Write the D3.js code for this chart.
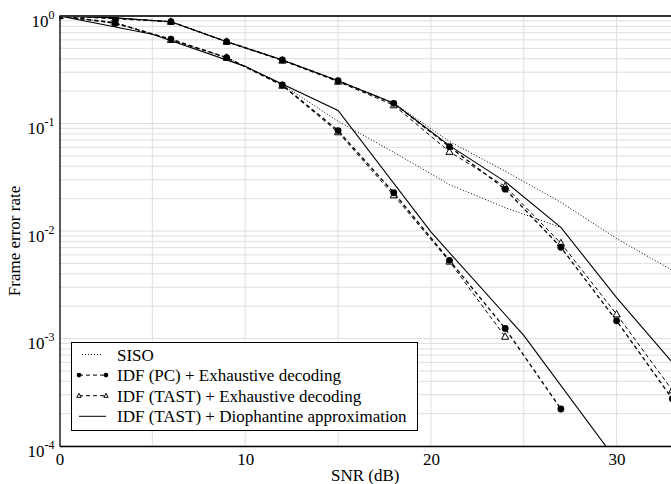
<!DOCTYPE html>
<html>
<head>
<meta charset="utf-8">
<script src="https://cdn.jsdelivr.net/npm/d3@7"></script>
<style>
body { margin: 0; background: #fff; }
svg { display: block; font-family: "Liberation Serif", "Times New Roman", serif; }
</style>
</head>
<body>
<div id="ChartContainer"></div>
<script>
// SNR grid (dB)
var snr = [0, 3, 6, 9, 12, 15, 18, 21, 24, 27, 30, 33]
var snrDio = [0, 5, 10, 15, 20, 25, 30]

// steep group
var pcLow = [1, 0.855, 0.61, 0.41, 0.228, 0.086, 0.0227, 0.00534, 0.00124, 0.000221]
var tastLow = [1, 0.87, 0.6, 0.41, 0.225, 0.083, 0.0215, 0.0052, 0.00104]
var dioLow = [1, 0.676, 0.34, 0.132, 0.0098, 0.00107, 0.000073]
var sisoLow = [1, 0.86, 0.6, 0.41, 0.23, 0.105, 0.054, 0.027, 0.0165, 0.0108]

// flat group
var pcHigh = [1, 0.95, 0.885, 0.577, 0.39, 0.25, 0.154, 0.0609, 0.0245, 0.00706, 0.00146, 0.000275]
var tastHigh = [1, 0.95, 0.885, 0.577, 0.385, 0.245, 0.148, 0.0546, 0.026, 0.0077, 0.00168, 0.00033]
var dioHigh = [1, 0.96, 0.885, 0.577, 0.39, 0.25, 0.154, 0.0623, 0.0288, 0.0108, 0.0024, 0.0006]
var sisoHigh = [1, 0.96, 0.885, 0.58, 0.39, 0.25, 0.155, 0.068, 0.036, 0.0185, 0.0085, 0.0043]

var legendLabels = [
  "SISO",
  "IDF (PC) + Exhaustive decoding",
  "IDF (TAST) + Exhaustive decoding",
  "IDF (TAST) + Diophantine approximation"
]
var xTicks = [0, 10, 20, 30]
var yTicks = [1, 1e-1, 1e-2, 1e-3, 1e-4]

var fullWidth = 671
var fullHeight = 484
var plotLeft = 59.5, plotTop = 16, plotRight = 672.3, plotBottom = 446

var svg = d3.select("#ChartContainer").append("svg")
  .attr("width", fullWidth)
  .attr("height", fullHeight)

var x = d3.scaleLinear().domain([0, 33]).range([plotLeft, plotRight])
var y = d3.scaleLog().domain([1e-4, 1]).range([plotBottom, plotTop])

svg.append("clipPath").attr("id", "plotClip")
  .append("rect")
  .attr("x", plotLeft).attr("y", plotTop)
  .attr("width", plotRight - plotLeft).attr("height", plotBottom - plotTop)

// grid
var grid = svg.append("g").attr("stroke", "#dedede").attr("stroke-width", 1)
grid.selectAll(".vgrid")
  .data(d3.range(5, 33, 5))
  .enter().append("line")
  .attr("x1", d => x(d)).attr("x2", d => x(d))
  .attr("y1", plotTop).attr("y2", plotBottom)
grid.selectAll(".hgrid")
  .data(y.ticks())
  .enter().append("line")
  .attr("x1", plotLeft).attr("x2", plotRight)
  .attr("y1", d => y(d)).attr("y2", d => y(d))

// series
var series = [
  {xs: snr, ys: sisoLow, dash: "1,2", width: 1, marker: null},
  {xs: snr, ys: sisoHigh, dash: "1,2", width: 1, marker: null},
  {xs: snrDio, ys: dioLow, dash: null, width: 1.1, marker: null},
  {xs: snr, ys: dioHigh, dash: null, width: 1.1, marker: null},
  {xs: snr, ys: tastLow, dash: "4,3", width: 1, marker: "tri"},
  {xs: snr, ys: tastHigh, dash: "4,3", width: 1, marker: "tri"},
  {xs: snr, ys: pcLow, dash: "4,3", width: 1.3, marker: "dot"},
  {xs: snr, ys: pcHigh, dash: "4,3", width: 1.3, marker: "dot"}
]

var line = d3.line().x(d => x(d[0])).y(d => y(d[1]))
var plot = svg.append("g").attr("clip-path", "url(#plotClip)")

function drawMarker(g, kind, cx, cy, size) {
  if (kind === "dot") {
    g.append("circle").attr("cx", cx).attr("cy", cy).attr("r", size)
      .attr("fill", "#000")
  } else if (kind === "tri") {
    var h = size * 1.8
    g.append("path")
      .attr("d", `M${cx},${cy - h * 0.6}L${cx + h * 0.55},${cy + h * 0.4}L${cx - h * 0.55},${cy + h * 0.4}Z`)
      .attr("fill", "#fff").attr("stroke", "#000").attr("stroke-width", 1)
  }
}

series.forEach(s => {
  var pts = s.ys.map((v, i) => [s.xs[i], v])
  plot.append("path")
    .attr("d", line(pts))
    .attr("fill", "none")
    .attr("stroke", "#000")
    .attr("stroke-width", s.width)
    .attr("stroke-dasharray", s.dash)
  if (s.marker) {
    pts.forEach(p => drawMarker(plot, s.marker, x(p[0]), y(p[1]), s.marker === "dot" ? 3.4 : 3.6))
  }
})

// frame
svg.append("line").attr("x1", plotLeft).attr("x2", plotRight).attr("y1", plotTop).attr("y2", plotTop)
  .attr("stroke", "#333").attr("stroke-width", 2)

// x-axis
var xAxis = svg.append("g")
  .attr("transform", `translate(0,${plotBottom})`)
  .call(d3.axisBottom(x).tickValues(xTicks).tickSize(0).tickPadding(7).tickFormat(d3.format("d")))
xAxis.select(".domain").attr("stroke", "#000").attr("stroke-width", 1.3)
xAxis.selectAll("text").attr("font-size", 17).attr("font-family", "Liberation Serif, serif").attr("fill", "#000")

// y-axis
var yAxis = svg.append("g")
  .attr("transform", `translate(${plotLeft},0)`)
  .call(d3.axisLeft(y).tickValues(yTicks).tickSize(0).tickPadding(5).tickFormat(""))
yAxis.select(".domain").attr("stroke", "#000").attr("stroke-width", 1.3)
yAxis.selectAll(".tick text")
  .attr("font-size", 17)
  .attr("font-family", "Liberation Serif, serif")
  .attr("fill", "#000")
  .attr("dy", "0.6em")
  .each(function (d) {
    var t = d3.select(this)
    t.append("tspan").text("10")
    t.append("tspan").attr("font-size", 12).attr("dy", -8).text(Math.round(Math.log10(d)))
  })

// axis labels
svg.append("text")
  .attr("x", (plotLeft + 671) / 2)
  .attr("y", 481)
  .attr("text-anchor", "middle")
  .attr("font-size", 17)
  .text("SNR (dB)")

svg.append("text")
  .attr("transform", "rotate(-90)")
  .attr("x", -241)
  .attr("y", 20)
  .attr("text-anchor", "middle")
  .attr("font-size", 17)
  .text("Frame error rate")

// legend
var legend = svg.append("g")
legend.append("rect")
  .attr("x", 71.5).attr("y", 342.5)
  .attr("width", 346).attr("height", 88)
  .attr("fill", "#fff").attr("stroke", "#000").attr("stroke-width", 1)

var legendStyle = [
  {dash: "1,2", marker: null, x1: 82, x2: 103},
  {dash: "4,3", marker: "dot", x1: 79, x2: 106},
  {dash: "4,3", marker: "tri", x1: 79, x2: 106},
  {dash: null, marker: null, x1: 79, x2: 106}
]
legendLabels.forEach((label, i) => {
  var cy = 354.5 + i * 20.6
  var st = legendStyle[i]
  legend.append("line")
    .attr("x1", st.x1).attr("x2", st.x2)
    .attr("y1", cy).attr("y2", cy)
    .attr("stroke", "#000").attr("stroke-width", 1)
    .attr("stroke-dasharray", st.dash)
  if (st.marker) {
    drawMarker(legend, st.marker, st.x1, cy, st.marker === "dot" ? 2.3 : 2.2)
    drawMarker(legend, st.marker, st.x2, cy, st.marker === "dot" ? 2.3 : 2.2)
  }
  legend.append("text")
    .attr("x", 117)
    .attr("y", cy + 6)
    .attr("font-size", 17)
    .text(label)
})
</script>
</body>
</html>
